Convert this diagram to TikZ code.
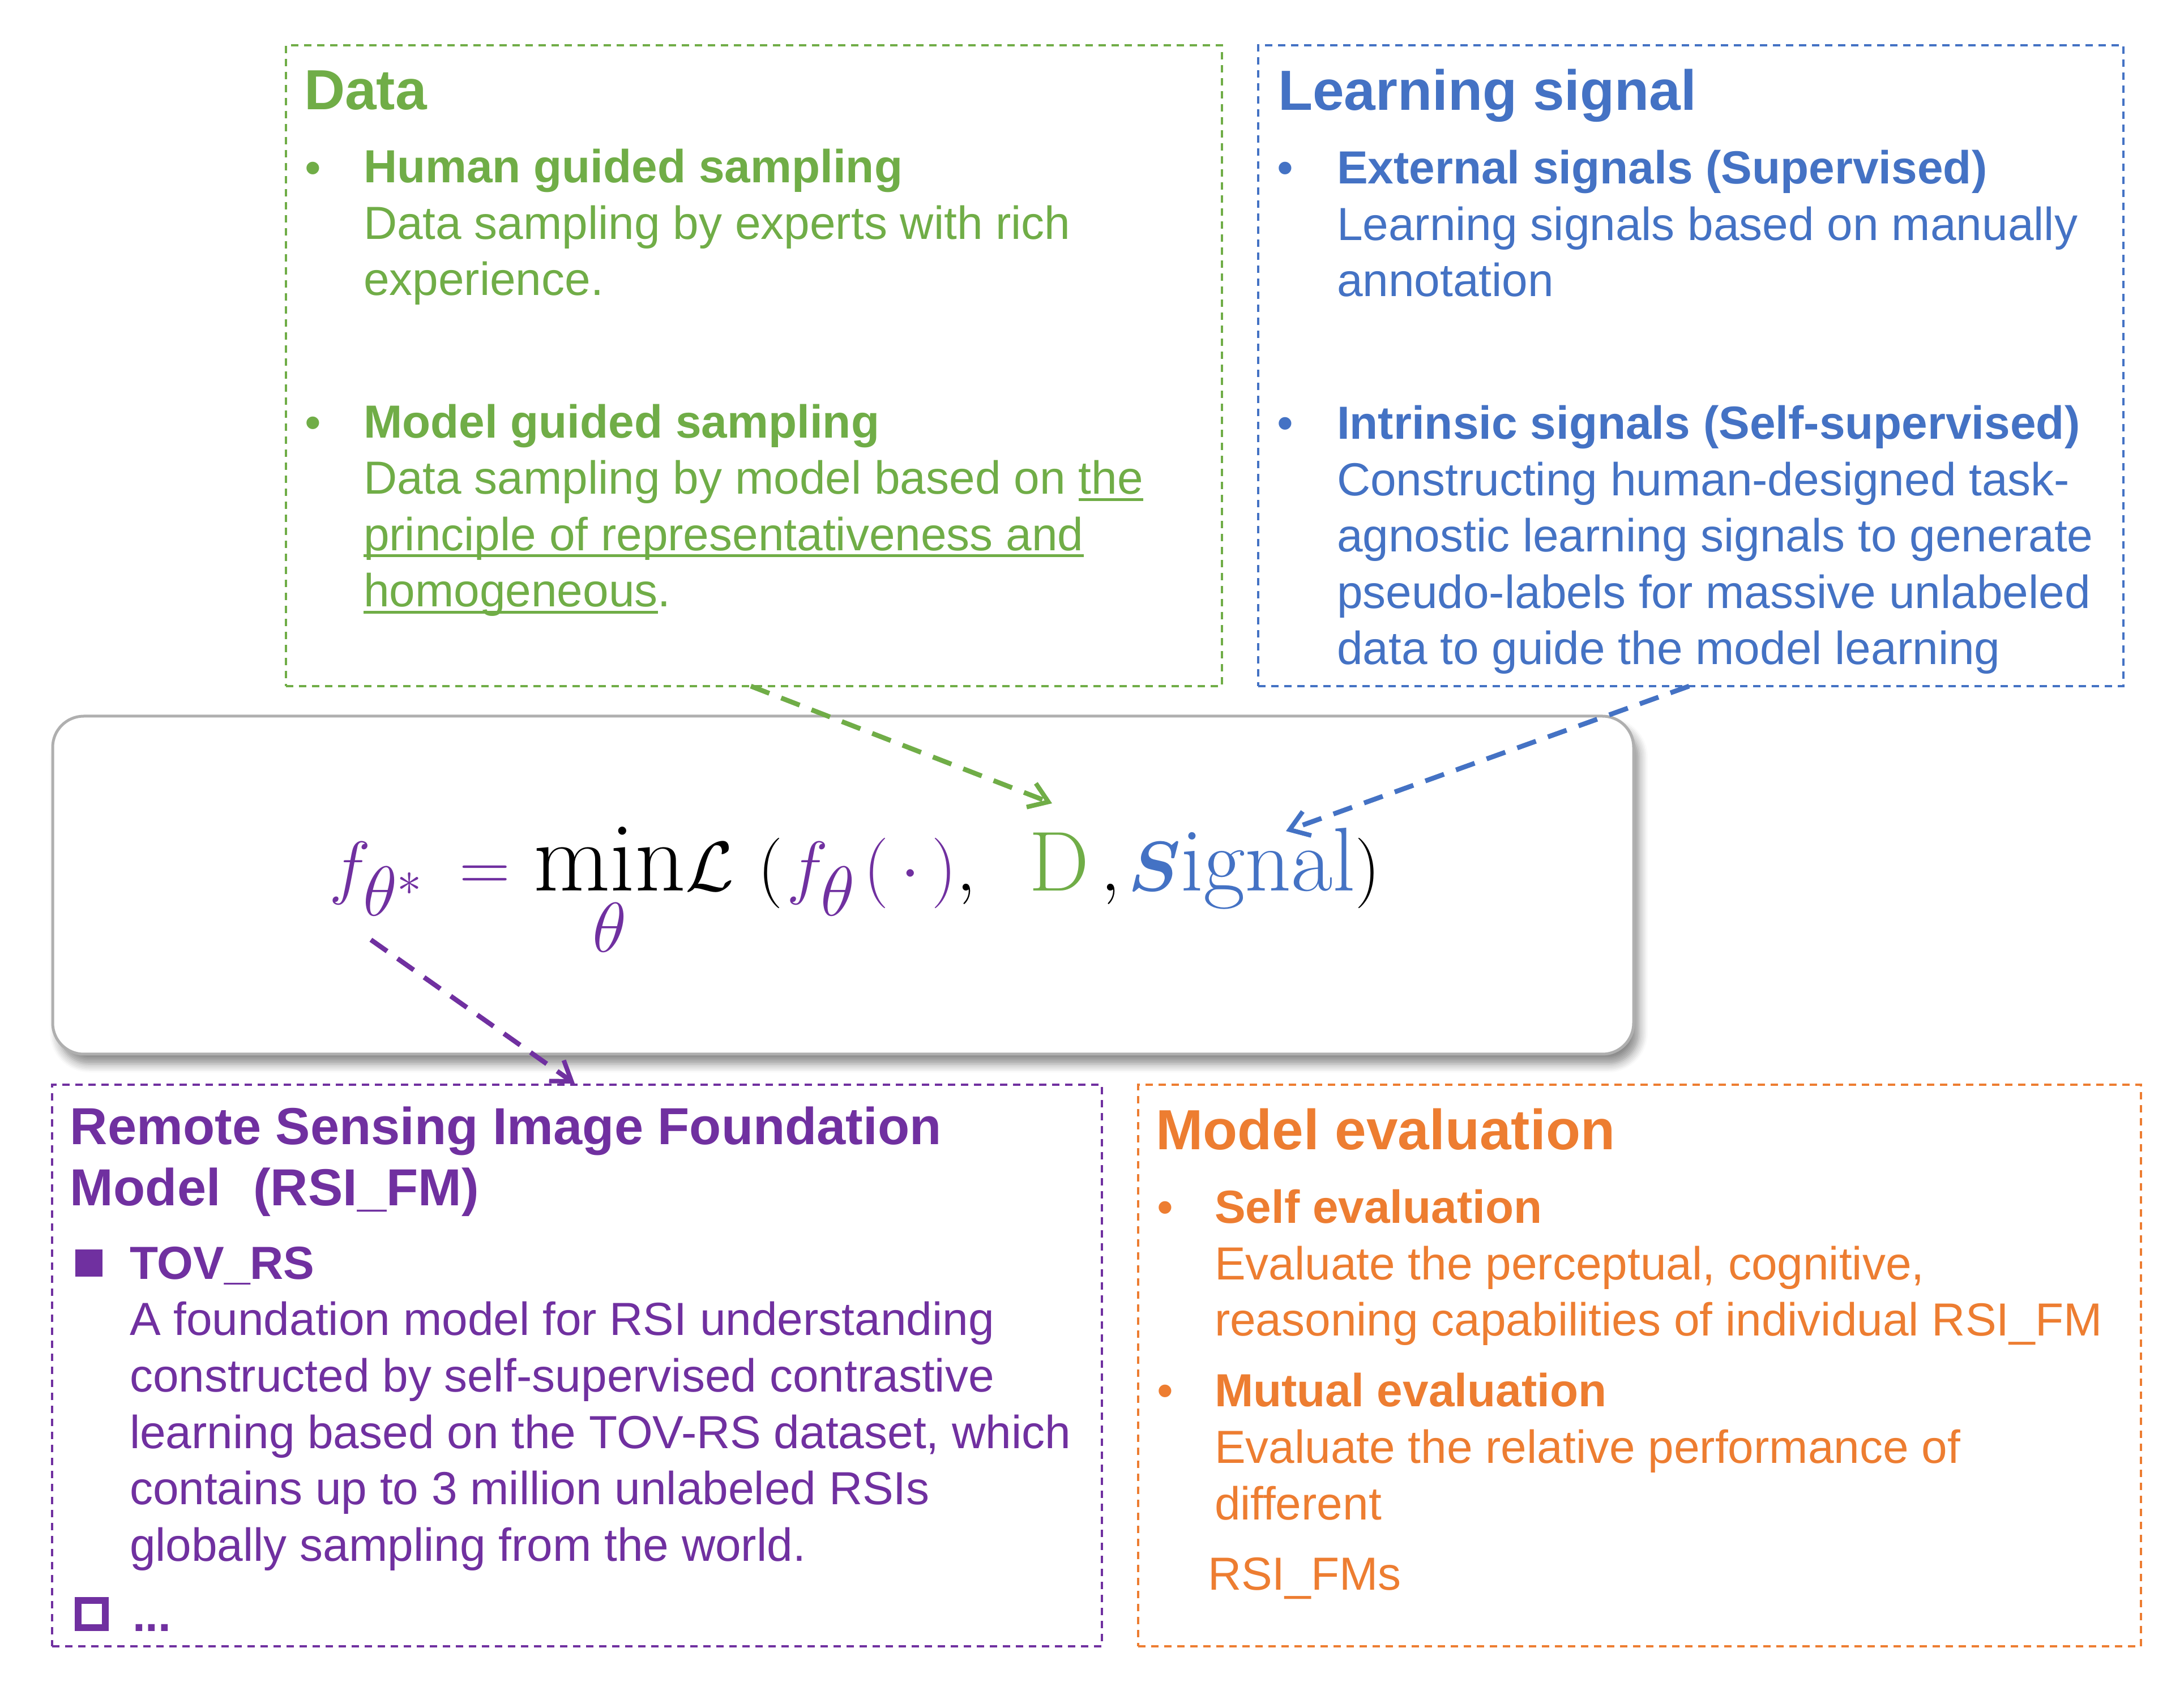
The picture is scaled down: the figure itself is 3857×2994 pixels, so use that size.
\documentclass[tikz,border=0pt]{standalone}
\usepackage{fontspec}
\usepackage{amsmath}
\usetikzlibrary{arrows.meta,shadows.blur,fit}
\newfontfamily\arial{Liberation Sans}
\definecolor{cgreen}{RGB}{112,173,71}
\definecolor{cblue}{RGB}{68,114,196}
\definecolor{cpurple}{RGB}{112,48,160}
\definecolor{corange}{RGB}{237,125,49}
\definecolor{cgray}{RGB}{175,175,175}
\newsavebox\ulbox
\newcommand\myul[1]{\sbox\ulbox{#1}\rlap{\rule[-2.4pt]{\wd\ulbox}{1pt}}\usebox\ulbox}
\begin{document}
\begin{tikzpicture}[x=0.2pt,y=-0.2pt,
  txt/.style={anchor=base west, inner sep=0, outer sep=0, align=left, font=\arial\fontsize{16.4}{19.9}\selectfont},
  ttl/.style={anchor=base west, inner sep=0, outer sep=0, align=left, font=\arial\bfseries\fontsize{20}{24}\selectfont},
  bul/.style={anchor=base west, inner sep=0, outer sep=0, font=\arial\fontsize{16.4}{19.9}\selectfont},
  dbox/.style={draw, inner sep=0, outer sep=0, line width=0.7pt, dash pattern=on 2.6pt off 2pt},
  eqbox/.style={draw=cgray, fill=white, inner sep=0, outer sep=0, line width=1pt, rounded corners=11pt,
     blur shadow={shadow xshift=2pt, shadow yshift=-3.5pt, shadow blur radius=3pt, shadow blur steps=6, shadow opacity=45}},
  conn/.style={line width=1.7pt, dash pattern=on 7pt off 4.5pt, -{Straight Barb[length=6.5pt,width=9pt,line width=1.6pt]}}
]
\useasboundingbox (0,0) rectangle (3857,2994);

% central formula box
\node[eqbox, fit={(93,1265) (2885,1862)}] (eqBox) {};
\node[anchor=base west, inner sep=0, font=\fontsize{35}{42}\selectfont, text=cpurple] (formula) at (580,1574)
 {$\displaystyle f_{\theta^{*}}\mkern4mu =\mkern1mu {\color{black}\min_{\color{cpurple}\theta}}{\color{black}\mathcal{L}\mkern6mu(}\mkern1mu f_{\theta}\mkern2mu(\mkern3mu\cdot\mkern3mu){\color{black},}\mkern6mu\ {\color{cgreen}\mbox{\fontsize{30}{36}\selectfont$\mathrm{D}$}}\,{\color{black},}\mkern2mu{\color{cblue}\mbox{\fontsize{32}{38}\selectfont$\boldsymbol{S}\mathrm{ignal}$}}{\color{black})}$};

% Data box
\node[dbox, draw=cgreen, fit={(505,80) (2158,1212)}] (dataBox) {};
\node[ttl, text=cgreen] (dataTitle) at (537,194) {Data};
\node[bul, text=cgreen] (dataB1) at (538,325) {•};
\node[txt, text=cgreen] (dataI1) at (642,522) {\textbf{Human guided sampling}\\Data sampling by experts with rich\\experience.};
\node[bul, text=cgreen] (dataB2) at (538,775) {•};
\node[txt, text=cgreen] (dataI2) at (642,1072) {\textbf{Model guided sampling}\\Data sampling by model based on \myul{the}\\\myul{principle of representativeness and}\\\myul{homogeneous}.};

% Learning signal box
\node[dbox, draw=cblue, fit={(2222,80) (3750,1212)}] (sigBox) {};
\node[ttl, text=cblue] (sigTitle) at (2257,195) {Learning signal};
\node[bul, text=cblue] (sigB1) at (2255,325) {•};
\node[txt, text=cblue] (sigI1) at (2361,524) {\textbf{External signals (Supervised)}\\Learning signals based on manually\\annotation};
\node[bul, text=cblue] (sigB2) at (2255,776) {•};
\node[txt, text=cblue] (sigI2) at (2361,1174) {\textbf{Intrinsic signals (Self-supervised)}\\Constructing human-designed task-\\agnostic learning signals to generate\\pseudo-labels for massive unlabeled\\data to guide the model learning};

% RSI_FM box
\node[dbox, draw=cpurple, fit={(92,1916) (1946,2908)}] (fmBox) {};
\node[anchor=base west, inner sep=0, align=left, text=cpurple, font=\arial\bfseries\fontsize{18.4}{21.6}\selectfont] (fmTitle) at (123,2130)
 {Remote Sensing Image Foundation\\Model\hspace{11.5pt}(RSI\_FM)};
\node[fill=cpurple, inner sep=0, minimum size=9.6pt, anchor=north west] (fmSq1) at (132,2206) {};
\node[txt, text=cpurple] (fmI1) at (229,2757) {\textbf{TOV\_RS}\\A foundation model for RSI understanding\\constructed by self-supervised contrastive\\learning based on the TOV-RS dataset, which\\contains up to 3 million unlabeled RSIs\\globally sampling from the world.};
\node[draw=cpurple, line width=2.4pt, inner sep=0, minimum size=9.6pt, anchor=center] (fmSq2) at (162,2851) {};
\node[bul, text=cpurple] (fmI2) at (234,2881) {\textbf{...}};

% Model evaluation box
\node[dbox, draw=corange, fit={(2010,1916) (3781,2908)}] (evBox) {};
\node[ttl, text=corange] (evTitle) at (2041,2031) {Model evaluation};
\node[bul, text=corange] (evB1) at (2043,2161) {•};
\node[txt, text=corange] (evI1) at (2145,2360) {\textbf{Self evaluation}\\Evaluate the perceptual, cognitive,\\reasoning capabilities of individual RSI\_FM};
\node[bul, text=corange] (evB2) at (2043,2485) {•};
\node[txt, text=corange] (evI2) at (2145,2684) {\textbf{Mutual evaluation}\\Evaluate the relative performance of\\different};
\node[txt, text=corange] (evI3) at (2133,2808) {RSI\_FMs};

% connectors
\coordinate (gS) at (1326,1212);
\coordinate (gE) at (1858,1419);
\coordinate (bS) at (2983,1212);
\coordinate (bE) at (2271,1468);
\coordinate (pS) at (655,1660);
\coordinate (pE) at (1015,1914);
\draw[conn, cgreen] (gS) -- (gE);
\draw[conn, cblue] (bS) -- (bE);
\draw[conn, cpurple] (pS) -- (pE);
\end{tikzpicture}
\end{document}
